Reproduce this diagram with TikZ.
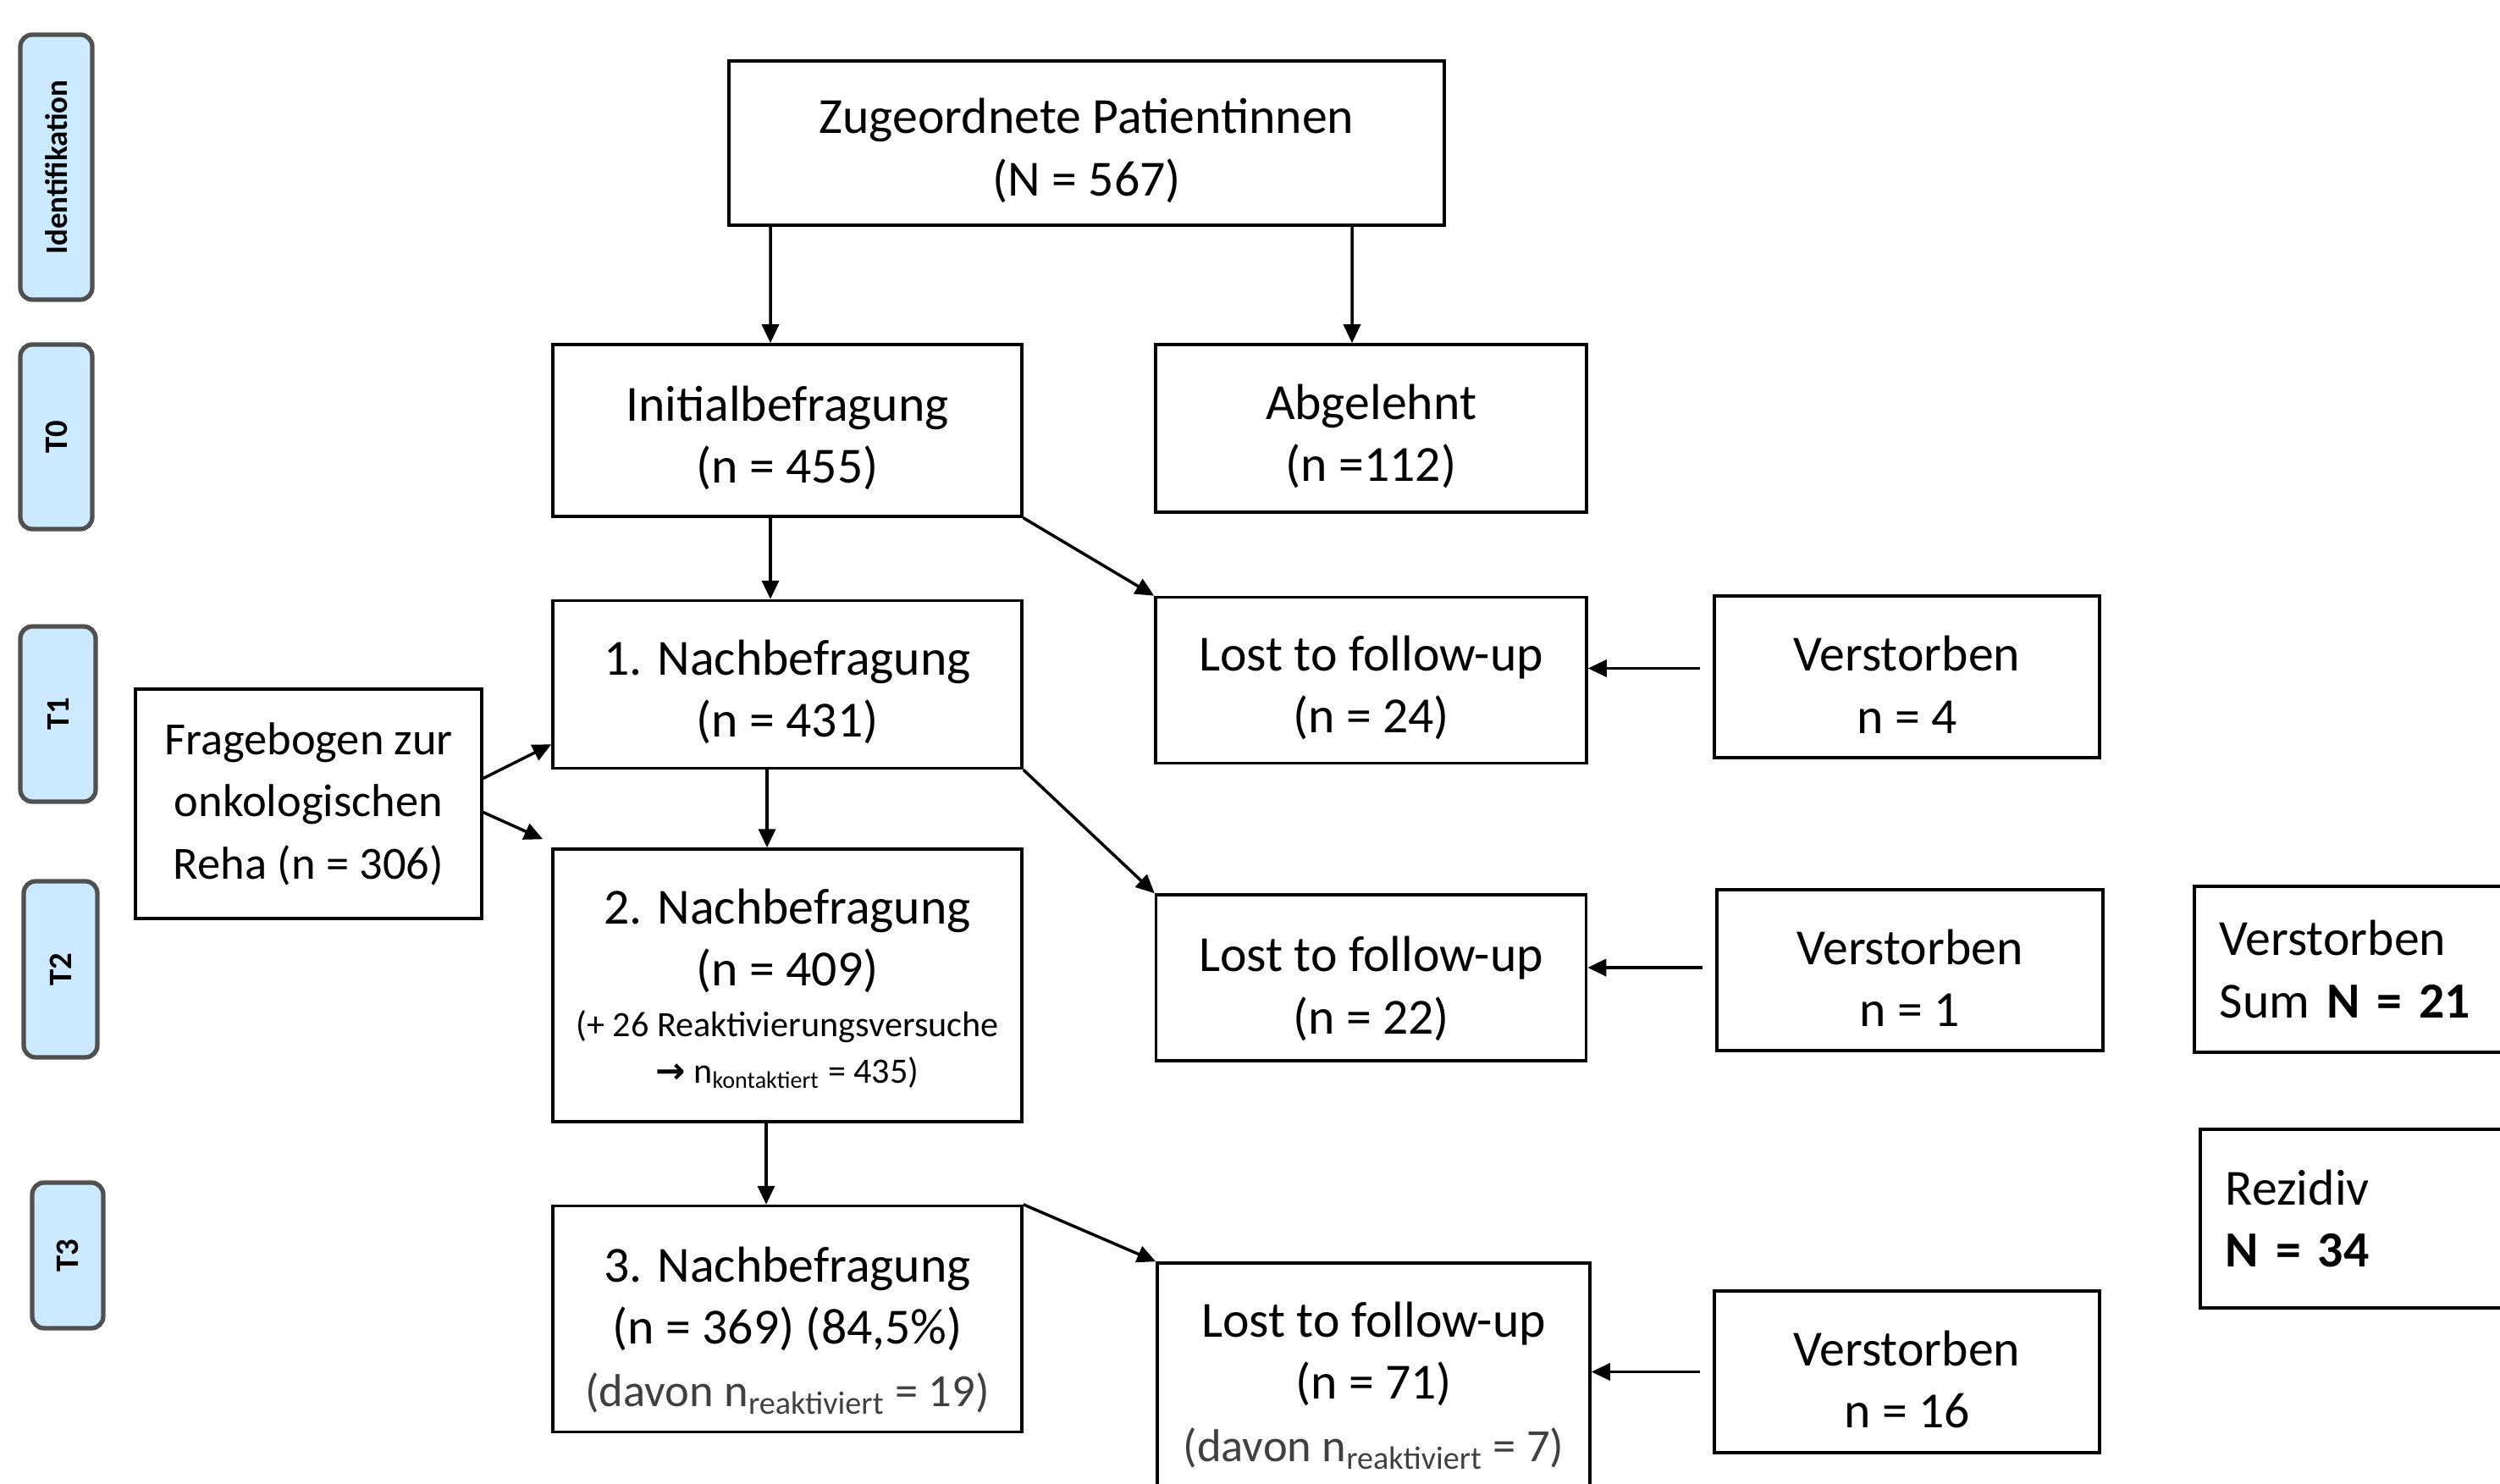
\documentclass[tikz,border=0pt]{standalone}
\usepackage{fontspec}
\setmainfont{Carlito}
\newfontfamily\arrowfont{DejaVu Sans}
\usetikzlibrary{arrows.meta, positioning}
\definecolor{phaseblue}{RGB}{204, 234, 255}
\definecolor{phaseedge}{RGB}{80, 80, 80}
\definecolor{notegray}{RGB}{64, 64, 64}
\newcommand{\topstrut}[1][17pt]{\rule{0pt}{#1}}
\tikzset{
  >=Triangle,
  flowarrow/.style={-{Triangle[length=2.2mm, width=2mm]}, line width=1pt, black},
  flowbox/.style={draw, line width=1pt, align=center, inner sep=0pt, font=\fontsize{17}{20.9}\selectfont},
  sidebox/.style={draw, line width=1pt, align=left, inner xsep=3mm, inner ysep=0pt, anchor=north west, font=\fontsize{17}{20.9}\selectfont},
  phasebox/.style={draw=phaseedge, fill=phaseblue, line width=1.5pt, rounded corners=4pt, rotate=90, inner sep=0pt, font=\fontsize{11}{13}\selectfont\bfseries}
}

\begin{document}
\begin{tikzpicture}
    \useasboundingbox (0,0) rectangle (29.53,-17.53);
    \clip (0,0) rectangle (29.53,-17.53);

    % phases
    \node (ident) [phasebox, minimum width=3.13cm, minimum height=0.85cm, font=\fontsize{10.5}{13}\selectfont\bfseries] at (0.665,-1.975) {Identifikation};
    \node (t0) [phasebox, minimum width=2.18cm, minimum height=0.85cm] at (0.665,-5.16) {T0};
    \node (t1) [phasebox, minimum width=2.07cm, minimum height=0.89cm] at (0.685,-8.435) {T1};
    \node (t2) [phasebox, minimum width=2.08cm, minimum height=0.87cm] at (0.715,-11.45) {T2};
    \node (t3) [phasebox, minimum width=1.72cm, minimum height=0.84cm] at (0.80,-14.83) {T3};

    % main column
    \node (zug) [flowbox, minimum width=8.45cm, minimum height=1.94cm] at (12.835,-1.69) {\topstrut Zugeordnete Patientinnen\\(N = 567)};
    \node (init) [flowbox, minimum width=5.54cm, minimum height=2.03cm] at (9.30,-5.085) {\topstrut Initialbefragung\\(n = 455)};
    \node (nach1) [flowbox, minimum width=5.54cm, minimum height=1.98cm, below=0.96cm of init] {\topstrut 1. Nachbefragung\\(n = 431)};
    \node (nach2) [flowbox, minimum width=5.54cm, minimum height=3.22cm, below=0.92cm of nach1] {\topstrut[14pt]2. Nachbefragung\\(n = 409)\\[-3.9pt]{\fontsize{12}{15}\selectfont(+ 26 Reaktivierungsversuche}\\[-5.4pt]{\fontsize{12}{15}\selectfont{\arrowfont\bfseries →} n\textsubscript{kontaktiert} = 435)}};
    \node (nach3) [flowbox, minimum width=5.54cm, minimum height=2.67cm, below=0.96cm of nach2] {\topstrut[19.5pt]3. Nachbefragung\\(n = 369) (84,5\%)\\{\fontsize{15.5}{20}\selectfont\color{notegray}(davon n\textsubscript{reaktiviert} = 19)}};
    \node (frag) [flowbox, minimum width=4.09cm, minimum height=2.71cm, font=\fontsize{15.5}{20.9}\selectfont] at (3.645,-9.495) {Fragebogen zur\\onkologischen\\Reha (n = 306)};

    % drop-outs
    \node (abg) [flowbox, minimum width=5.09cm, minimum height=1.98cm] at (16.195,-5.06) {\topstrut Abgelehnt\\(n =112)};
    \node (lost1) [flowbox, minimum width=5.09cm, minimum height=1.96cm, below=0.97cm of abg] {\topstrut Lost to follow-up\\(n = 24)};
    \node (lost2) [flowbox, minimum width=5.08cm, minimum height=1.96cm, below=1.52cm of lost1] {\topstrut[19pt]Lost to follow-up\\(n = 22)};
    \node (lost3) [flowbox, minimum width=5.11cm, minimum height=2.82cm] at (16.225,-16.33) {\topstrut[14pt]Lost to follow-up\\(n = 71)\\{\fontsize{15.5}{20}\selectfont\color{notegray}(davon n\textsubscript{reaktiviert} = 7)}};
    \node (verst1) [flowbox, minimum width=4.55cm, minimum height=1.91cm] at (22.525,-7.995) {\topstrut Verstorben\\n = 4};
    \node (verst2) [flowbox, minimum width=4.56cm, minimum height=1.90cm] at (22.56,-11.46) {\topstrut Verstorben\\n = 1};
    \node (verst3) [flowbox, minimum width=4.55cm, minimum height=1.91cm] at (22.525,-16.205) {\topstrut Verstorben\\n = 16};

    % sums
    \node (sum) [sidebox, text width=3.4cm, minimum height=1.96cm] at (25.90,-10.45) {Verstorben\\Sum \textbf{N = 21}};
    \node (rez) [sidebox, text width=3.4cm, minimum height=2.11cm] at (25.97,-13.32) {Rezidiv\\\textbf{N = 34}};

    \coordinate (v1) at ([shift={(-1.5mm,1mm)}]verst1.west);
    \coordinate (v2) at ([shift={(-1.5mm,0.3mm)}]verst2.west);
    \coordinate (v3) at ([xshift=-1.5mm]verst3.west);

    \draw[flowarrow] ([xshift=-3.735cm]zug.south) -- ([xshift=-2mm]init.north);
    \draw[flowarrow] ([xshift=3.135cm]zug.south) -- ([xshift=-2.25mm]abg.north);
    \draw[flowarrow] ([xshift=-2mm]init.south) -- ([xshift=-2mm]nach1.north);
    \draw[flowarrow] ([xshift=-2.4mm]nach1.south) -- ([xshift=-2.4mm]nach1.south |- nach2.north);
    \draw[flowarrow] ([xshift=-2.5mm]nach2.south) -- ([xshift=-2.5mm]nach2.south |- nach3.north);
    \draw[flowarrow] (init.south east) -- (lost1.north west);
    \draw[flowarrow] (nach1.south east) -- (lost2.north west);
    \draw[flowarrow] (nach3.north east) -- (lost3.north west);
    \draw[flowarrow] (v1) -- (v1 -| lost1.east);
    \draw[flowarrow] (v2) -- (v2 -| lost2.east);
    \draw[flowarrow] (v3) -- (v3 -| lost3.east);
    \draw[flowarrow] ([yshift=3mm]frag.east) -- ([yshift=3mm]nach1.south west);
    \draw[flowarrow] ([yshift=-1mm]frag.east) -- ([shift={(-1mm,1mm)}]nach2.north west);
\end{tikzpicture}
\end{document}
